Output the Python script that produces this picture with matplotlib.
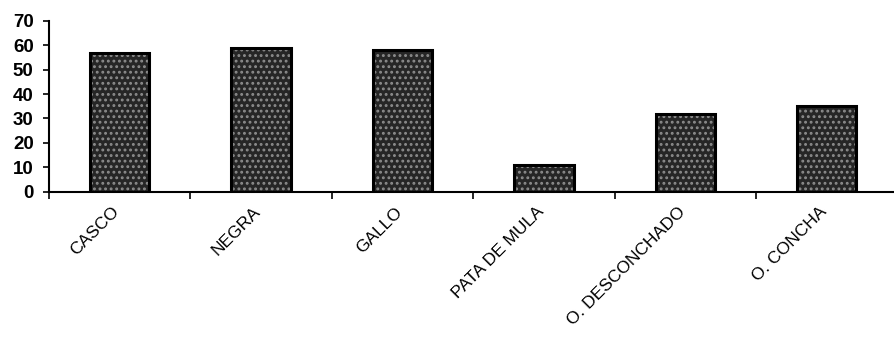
import matplotlib
matplotlib.use("Agg")
import matplotlib.pyplot as plt
import matplotlib.transforms as mtransforms
import numpy as np

categories = ["CASCO", "NEGRA", "GALLO", "PATA DE MULA", "O. DESCONCHADO", "O. CONCHA"]
values = [57, 59, 58, 11, 32, 35]
yticks = [0, 10, 20, 30, 40, 50, 60, 70]

plt.rcParams["font.family"] = ["Liberation Sans", "DejaVu Sans"]
plt.rcParams["hatch.linewidth"] = 1.3

fig = plt.figure(figsize=(8.94, 3.38), dpi=100)
ax = fig.add_axes([0.0548, 0.433, 0.949, 0.505])

x = np.arange(len(categories))
# stippled fill
ax.bar(x, values, width=0.42, color="#262626", edgecolor="#8c8c8c",
       hatch="...", linewidth=0, zorder=2)
# solid outline
ax.bar(x, values, width=0.42, fill=False, edgecolor="black",
       linewidth=2.2, zorder=3)

ax.set_xlim(-0.5, len(categories) - 0.5)
ax.set_ylim(0, 70)
ax.set_yticks(yticks)
ax.set_yticklabels([str(v) for v in yticks], fontsize=13.5, fontweight="bold")

ax.set_xticks(np.arange(len(categories) + 1) - 0.5, minor=False)
ax.set_xticklabels([])
ax.set_xticks(x, minor=True)
ax.set_xticklabels(categories, minor=True, rotation=45, ha="right",
                   va="top", rotation_mode="anchor", fontsize=12.5)
ax.tick_params(axis="x", which="minor", length=0, pad=9)
ax.tick_params(axis="x", which="major", length=5, width=1.2, direction="out")
ax.tick_params(axis="y", length=4, width=1.2, direction="out", pad=7)

shift = mtransforms.ScaledTranslation(-8 / 100, 0, fig.dpi_scale_trans)
for lbl in ax.get_xticklabels(minor=True):
    lbl.set_transform(lbl.get_transform() + shift)

for s in ("top", "right"):
    ax.spines[s].set_visible(False)
for s in ("left", "bottom"):
    ax.spines[s].set_linewidth(1.5)

fig.savefig("out.png", dpi=100)
